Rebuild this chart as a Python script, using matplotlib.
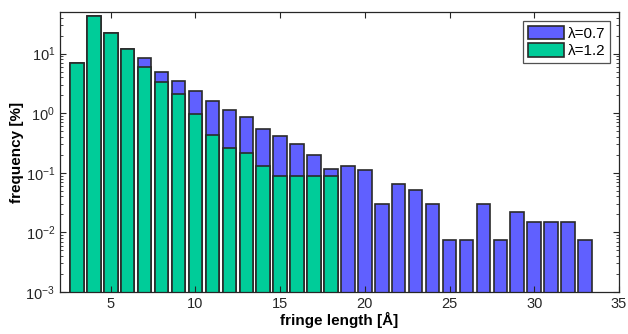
import numpy as np
import matplotlib
matplotlib.use("Agg")
import matplotlib.pyplot as plt
from matplotlib.ticker import LogLocator, NullFormatter

plt.rcParams['font.family'] = ['Liberation Sans', 'DejaVu Sans']
plt.rcParams['mathtext.default'] = 'regular'

# fringe length bins [A]
lengths_07 = np.arange(3, 34)
lengths_12 = np.arange(3, 19)

# frequency [%] per bin
freq_07 = [7.1, 43.6, 21.8, 12.0, 8.5, 4.9, 3.46, 2.4, 1.6, 1.12, 0.87,
           0.55, 0.42, 0.31, 0.197, 0.117, 0.132, 0.11, 0.0296, 0.0656,
           0.051, 0.0296, 0.00736, 0.00736, 0.0296, 0.00736, 0.0218,
           0.0148, 0.0148, 0.0148, 0.00736]
freq_12 = [7.1, 43.6, 21.8, 12.0, 5.9, 3.3, 2.1, 0.96, 0.43, 0.264, 0.218,
           0.132, 0.087, 0.087, 0.087, 0.087]

labels = ['\u03bb=0.7', '\u03bb=1.2']
blue = '#6060ff'
green = '#00cc99'
edge = '#2a2a2a'

fig = plt.figure(figsize=(6.28, 3.34), dpi=100)
ax = fig.add_axes([0.0955, 0.126, 0.89, 0.838])

ax.bar(lengths_07, freq_07, width=0.8, bottom=1e-4, color=blue,
       edgecolor=edge, linewidth=1.2, label=labels[0])
ax.bar(lengths_12, freq_12, width=0.8, bottom=1e-4, color=green,
       edgecolor=edge, linewidth=1.2, label=labels[1])

ax.set_yscale('log')
ax.set_xlim(2, 35)
ax.set_ylim(1e-3, 50)
ax.set_xticks(np.arange(5, 36, 5))
ax.yaxis.set_major_locator(LogLocator(base=10, numticks=10))
ax.yaxis.set_minor_locator(LogLocator(base=10, subs=np.arange(2, 10), numticks=10))
ax.yaxis.set_minor_formatter(NullFormatter())

ax.tick_params(which='both', direction='in', top=True, right=True,
               labelsize=10.5, colors='#262626')
ax.tick_params(which='major', length=4, width=0.8)
ax.tick_params(which='minor', length=2, width=0.6)
for s in ax.spines.values():
    s.set_color('#262626')
    s.set_linewidth(0.9)

ax.set_xlabel('fringe length [\u00c5]', fontsize=11, fontweight='bold', labelpad=1)
ax.set_ylabel('frequency [%]', fontsize=11, fontweight='bold', labelpad=1)

leg = ax.legend(loc='upper right', fontsize=11, frameon=True, fancybox=False,
                handlelength=2.4, handleheight=1.0, handletextpad=0.2,
                borderpad=0.3, labelspacing=0.15, borderaxespad=0.6)
leg.get_frame().set_edgecolor('#262626')
leg.get_frame().set_linewidth(0.9)

fig.savefig('out.png', dpi=100)
